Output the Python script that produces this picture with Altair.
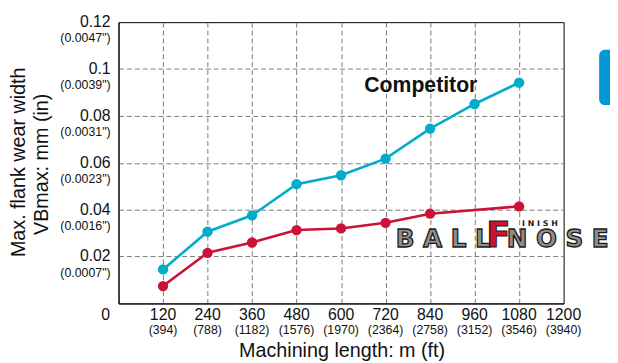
import altair as alt
import pandas as pd

# ---- data ----
x_blue = [120, 240, 360, 480, 600, 720, 840, 960, 1080]
competitor = [0.0145, 0.0306, 0.0376, 0.0509, 0.0547, 0.0618, 0.0746, 0.0851, 0.0942]
x_red = [120, 240, 360, 480, 600, 720, 840, 1080]
ballnose = [0.0074, 0.0216, 0.0260, 0.0313, 0.0320, 0.0344, 0.0383, 0.0414]

y_ticks = [0.02, 0.04, 0.06, 0.08, 0.1, 0.12]
y_main = ["0.02", "0.04", "0.06", "0.08", "0.1", "0.12"]
y_sub = ['(0.0007")', '(0.0016")', '(0.0023")', '(0.0031")', '(0.0039")', '(0.0047")']

x_ticks = [120, 240, 360, 480, 600, 720, 840, 960, 1080, 1200]
x_main = ["120", "240", "360", "480", "600", "720", "840", "960", "1080", "1200"]
x_sub = ["(394)", "(788)", "(1182)", "(1576)", "(1970)", "(2364)", "(2758)",
         "(3152)", "(3546)", "(3940)"]

BLUE = "#00adc8"
RED = "#cc1236"
FONT = "Liberation Sans"
W, H = 451, 285

series = pd.DataFrame(
    {"x": x_blue + x_red,
     "y": competitor + ballnose,
     "s": ["Competitor"] * len(x_blue) + ["BallNose"] * len(x_red)}
)
xs = alt.Scale(domain=[0, 1200], nice=False)
ys = alt.Scale(domain=[0, 0.12], nice=False)

lines = alt.Chart(series).mark_line(
    strokeWidth=2.6, point=alt.OverlayMarkDef(size=110, filled=True, opacity=1)
).encode(
    x=alt.X("x:Q", scale=xs, axis=alt.Axis(values=x_ticks[:-1], labels=False, ticks=False,
                                           title=None, grid=True, gridDash=[5, 3],
                                           gridColor="#7a7a7a", gridWidth=1,
                                           domainColor="#000", domainWidth=1)),
    y=alt.Y("y:Q", scale=ys, axis=alt.Axis(values=y_ticks[:-1], labels=False, ticks=False,
                                           title=None, grid=True, gridDash=[5, 3],
                                           gridColor="#7a7a7a", gridWidth=1,
                                           domainColor="#000", domainWidth=1)),
    color=alt.Color("s:N", scale=alt.Scale(domain=["Competitor", "BallNose"],
                                           range=[BLUE, RED]), legend=None),
    detail="s:N",
)

ylab = pd.DataFrame({"v": y_ticks, "m": y_main, "sub": y_sub})
ymain = alt.Chart(ylab).mark_text(align="right", baseline="middle", font=FONT,
                                  fontSize=16, color="#111").encode(
    y=alt.Y("v:Q", scale=ys), x=alt.value(-8), text="m:N")
ysub = alt.Chart(ylab).mark_text(align="right", baseline="middle", font=FONT,
                                 fontSize=12.5, dy=16.5, color="#111").encode(
    y=alt.Y("v:Q", scale=ys), x=alt.value(-8), text="sub:N")

xlab = pd.DataFrame({"v": x_ticks, "m": x_main, "sub": x_sub})
xmain = alt.Chart(xlab).mark_text(align="center", baseline="middle", font=FONT,
                                  fontSize=16, color="#111").encode(
    x=alt.X("v:Q", scale=xs), y=alt.value(H + 12), text="m:N")
xsub = alt.Chart(xlab).mark_text(align="center", baseline="middle", font=FONT,
                                 fontSize=12.5, color="#111").encode(
    x=alt.X("v:Q", scale=xs), y=alt.value(H + 27), text="sub:N")

one = alt.Data(values=[{}])
zero = alt.Chart(one).mark_text(text="0", font=FONT, fontSize=16, color="#111",
                                baseline="middle").encode(
    x=alt.value(-13), y=alt.value(H + 12))

xtitle = alt.Chart(one).mark_text(text="Machining length: m (ft)", font=FONT, fontSize=20,
                                  color="#111", baseline="alphabetic").encode(
    x=alt.value(W / 2 + 1), y=alt.value(H + 54))
ytitle1 = alt.Chart(one).mark_text(text="Max. flank wear width", font=FONT, fontSize=20,
                                   color="#111", angle=270, baseline="middle").encode(
    x=alt.value(-101), y=alt.value(142))
ytitle2 = alt.Chart(one).mark_text(text="VBmax: mm (in)", font=FONT, fontSize=20,
                                   color="#111", angle=270, baseline="middle").encode(
    x=alt.value(-77), y=alt.value(144))

comp = alt.Chart(one).mark_text(text="Competitor", font=FONT, fontSize=21.5, fontWeight="bold",
                                color="#111", align="left", baseline="alphabetic").encode(
    x=alt.value(249), y=alt.value(71))

LOGO = "DejaVu Sans"
ball = alt.Chart(one).mark_text(text="B A L L", font=LOGO, fontSize=25, fontWeight="bold",
                                fill="#8e8e8e", stroke="#1a1a1a", strokeWidth=1.3,
                                baseline="alphabetic", align="center").encode(
    x=alt.value(329), y=alt.value(228))
fbig = alt.Chart(one).mark_text(text="F", font=LOGO, fontSize=36, fontWeight="bold",
                                fill=RED, stroke="#1a1a1a", strokeWidth=1.1,
                                baseline="alphabetic", align="center").encode(
    x=alt.value(385), y=alt.value(228))
nose = alt.Chart(one).mark_text(text="N O S E", font=LOGO, fontSize=25, fontWeight="bold",
                                fill="#8e8e8e", stroke="#1a1a1a", strokeWidth=1.3,
                                baseline="alphabetic", align="center").encode(
    x=alt.value(445), y=alt.value(228))
inish = alt.Chart(one).mark_text(text="I N I S H", font=LOGO, fontSize=8, fontWeight="bold",
                                 color="#1a1a1a", baseline="alphabetic", align="center").encode(
    x=alt.value(427), y=alt.value(207))

tab = alt.Chart(one).mark_rect(color="#0098d6", cornerRadius=6).encode(
    x=alt.value(487), x2=alt.value(510), y=alt.value(28), y2=alt.value(84))

chart = alt.layer(
    lines, ymain, ysub, xmain, xsub, zero, xtitle, ytitle1, ytitle2, comp,
    ball, fbig, nose, inish, tab
).properties(
    width=W, height=H,
    padding={"left": 112, "top": 12, "right": 47, "bottom": 58},
    autosize=alt.AutoSizeParams(type="none"),
    background="white",
).configure_view(stroke="#000", strokeWidth=1)

chart.save("out.html", embed_options={"renderer": "svg", "actions": False})
